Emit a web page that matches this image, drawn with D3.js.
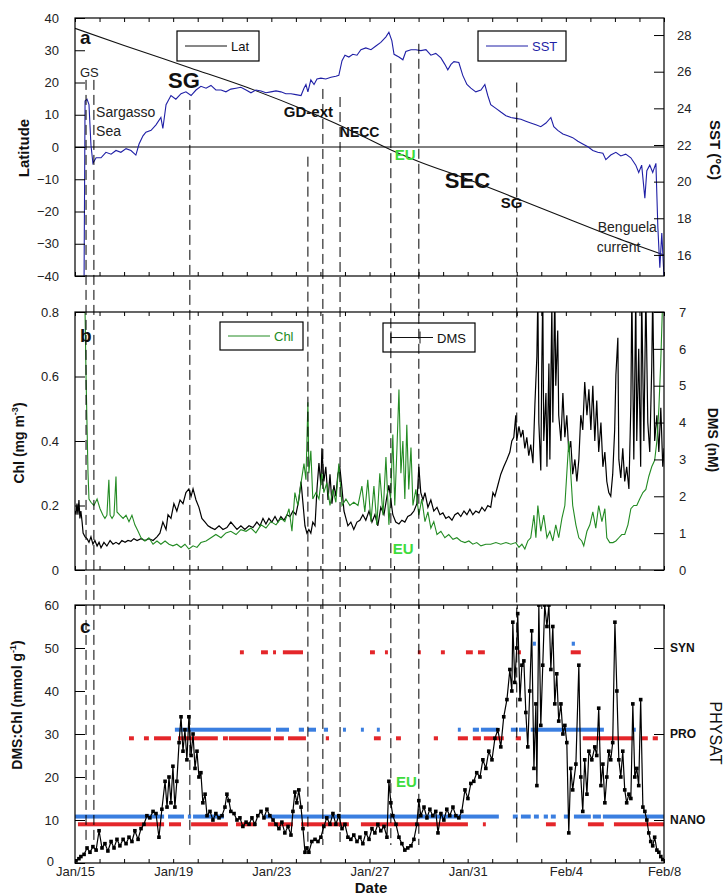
<!DOCTYPE html>
<html>
<head>
<meta charset="utf-8">
<script src="https://cdn.jsdelivr.net/npm/d3@7"></script>
<style>
  body { margin: 0; background: #fff; }
  svg text { font-family: "Liberation Sans", Arial, sans-serif; }
</style>
</head>
<body>
<svg id="chart" width="724" height="896"></svg>
<script>
// ---- data (day 0 = Jan 15, day 24 = Feb 8) ----
const dayTickLabels = ["Jan/15", "Jan/19", "Jan/23", "Jan/27", "Jan/31", "Feb/4", "Feb/8"];

// ship latitude along track [day, deg]
const latTrack = [[0,36.8],[2,31.5],[4.7,24.5],[7,18.5],[9.5,11],[11,6],[12.9,-1],[14,-4.5],
  [16,-10],[18,-16],[20,-22],[22,-28],[24,-33.5]];

// SST [day, degC]
const sst = [[0.37,14.8],[0.41,24.4],[0.49,24.5],[0.57,24.2],[0.65,22.0],[0.73,21.0],[0.86,21.3],[1.06,21.3],
  [1.26,21.6],[1.47,21.5],[1.67,21.7],[1.87,21.6],[2.08,21.8],[2.28,21.7],[2.48,21.45],[2.61,22.05],[2.77,22.5],
  [2.89,22.7],[3.10,22.8],[3.30,23.1],[3.50,23.5],[3.58,22.9],[3.71,24.2],[3.91,24.7],[4.11,24.5],[4.32,24.8],
  [4.52,24.9],[4.73,24.7],[4.93,25.0],[5.13,25.2],[5.34,25.1],[5.54,25.25],[5.74,25.0],[5.95,25.0],[6.15,24.9],
  [6.35,25.05],[6.56,25.1],[6.76,25.15],[6.97,25.0],[7.17,24.85],[7.37,25.0],[7.58,24.95],[7.78,24.85],[7.98,24.9],
  [8.19,24.95],[8.39,24.9],[8.59,24.8],[8.80,24.8],[9.00,24.75],[9.21,24.7],[9.33,25.1],[9.41,25.3],[9.49,24.9],
  [9.61,25.55],[9.74,25.3],[9.86,25.6],[10.02,25.65],[10.22,25.6],[10.43,25.7],[10.63,25.75],[10.75,25.8],
  [10.88,26.6],[11.0,26.9],[11.16,26.8],[11.32,26.95],[11.49,26.9],[11.65,27.2],[11.85,27.3],[12.06,27.2],
  [12.26,27.4],[12.46,27.6],[12.67,27.9],[12.79,28.15],[12.91,27.7],[13.0,26.95],[13.20,26.8],[13.36,26.65],
  [13.48,27.1],[13.69,27.2],[13.89,27.2],[14.09,27.15],[14.30,27.2],[14.50,26.9],[14.70,27.0],[14.91,26.75],
  [15.07,26.4],[15.19,26.1],[15.32,26.4],[15.44,26.55],[15.64,26.5],[15.80,25.8],[15.97,25.3],[16.13,25.1],
  [16.33,24.9],[16.54,25.0],[16.70,25.3],[16.82,24.7],[16.94,24.2],[17.15,24.0],[17.35,23.8],[17.56,23.6],
  [17.76,23.5],[17.96,23.45],[18.17,23.4],[18.37,23.3],[18.57,23.2],[18.78,23.1],[18.98,23.0],[19.19,23.2],
  [19.39,23.5],[19.51,23.0],[19.67,22.8],[19.88,22.6],[20.08,22.5],[20.28,22.4],[20.49,22.2],[20.69,22.05],
  [20.90,21.9],[21.10,21.7],[21.30,21.6],[21.51,21.55],[21.63,21.2],[21.83,21.45],[22.04,21.6],[22.24,21.4],
  [22.44,21.5],[22.65,21.3],[22.85,20.9],[22.97,20.5],[23.09,20.9],[23.22,19.1],[23.30,20.6],[23.42,20.9],
  [23.54,20.5],[23.67,21.0],[23.75,17.5],[23.83,15.3],[23.91,17.2],[24.0,14.8]];

// Chl [day, mg m-3]
const chl = [[0.37,0.85],[0.41,0.8],[0.45,0.6],[0.49,0.45],[0.53,0.3],[0.57,0.22],[0.65,0.21],[0.77,0.2],[0.90,0.22],
  [1.02,0.19],[1.14,0.17],[1.22,0.16],[1.30,0.17],[1.38,0.28],[1.43,0.17],[1.51,0.16],[1.59,0.17],[1.67,0.29],
  [1.71,0.18],[1.83,0.17],[1.96,0.16],[2.08,0.17],[2.20,0.15],[2.32,0.17],[2.44,0.14],[2.57,0.12],[2.69,0.1],
  [2.85,0.09],[3.01,0.1],[3.18,0.08],[3.34,0.09],[3.50,0.08],[3.67,0.09],[3.83,0.08],[3.99,0.075],[4.15,0.08],
  [4.32,0.07],[4.48,0.08],[4.64,0.065],[4.81,0.075],[4.97,0.07],[5.13,0.085],[5.34,0.09],[5.54,0.1],[5.74,0.11],
  [5.95,0.1],[6.15,0.115],[6.35,0.12],[6.56,0.11],[6.76,0.125],[6.97,0.12],[7.17,0.13],[7.37,0.115],[7.58,0.14],
  [7.78,0.13],[7.98,0.15],[8.19,0.14],[8.39,0.16],[8.55,0.15],[8.72,0.19],[8.84,0.12],[8.96,0.24],[9.08,0.2],
  [9.21,0.27],[9.33,0.33],[9.41,0.28],[9.49,0.52],[9.53,0.3],[9.61,0.37],[9.69,0.22],[9.82,0.24],[9.94,0.22],
  [10.06,0.3],[10.14,0.24],[10.26,0.27],[10.39,0.2],[10.51,0.25],[10.63,0.21],[10.75,0.33],[10.88,0.2],[11.04,0.22],
  [11.20,0.2],[11.36,0.21],[11.53,0.2],[11.69,0.26],[11.81,0.18],[11.93,0.28],[12.06,0.15],[12.18,0.26],[12.30,0.14],
  [12.42,0.3],[12.55,0.17],[12.67,0.35],[12.79,0.14],[12.87,0.24],[12.95,0.42],[13.03,0.2],[13.12,0.38],[13.20,0.56],
  [13.28,0.3],[13.36,0.4],[13.44,0.22],[13.52,0.45],[13.60,0.25],[13.69,0.38],[13.77,0.2],[13.89,0.25],[14.01,0.17],
  [14.13,0.22],[14.26,0.15],[14.38,0.18],[14.50,0.13],[14.62,0.15],[14.75,0.11],[14.91,0.12],[15.07,0.1],[15.23,0.11],
  [15.40,0.095],[15.56,0.1],[15.72,0.09],[15.89,0.085],[16.05,0.09],[16.21,0.08],[16.37,0.085],[16.54,0.075],
  [16.74,0.08],[16.94,0.08],[17.15,0.085],[17.35,0.08],[17.56,0.085],[17.76,0.08],[17.96,0.085],[18.09,0.07],
  [18.21,0.08],[18.33,0.065],[18.45,0.09],[18.57,0.1],[18.70,0.17],[18.78,0.1],[18.86,0.2],[18.98,0.12],[19.10,0.17],
  [19.23,0.1],[19.35,0.12],[19.47,0.09],[19.59,0.14],[19.71,0.1],[19.84,0.16],[19.96,0.2],[20.04,0.3],[20.12,0.4],
  [20.20,0.3],[20.28,0.2],[20.41,0.14],[20.53,0.1],[20.65,0.09],[20.73,0.075],[20.86,0.12],[20.98,0.14],[21.10,0.18],
  [21.22,0.13],[21.34,0.2],[21.47,0.15],[21.59,0.19],[21.67,0.1],[21.79,0.085],[21.92,0.085],[22.04,0.09],[22.16,0.1],
  [22.28,0.11],[22.40,0.11],[22.53,0.14],[22.65,0.19],[22.77,0.2],[22.89,0.2],[23.01,0.22],[23.14,0.24],[23.26,0.25],
  [23.38,0.29],[23.50,0.32],[23.62,0.34],[23.71,0.4],[23.79,0.5],[23.87,0.65],[23.95,0.85]];

// DMS [day, nM]
const dms = [[0.0,1.6],[0.04,1.5],[0.08,1.8],[0.12,1.5],[0.16,1.9],[0.20,1.4],[0.24,1.6],[0.29,1.3],[0.33,1.0],
  [0.41,0.9],[0.49,0.85],[0.57,0.75],[0.65,0.9],[0.73,0.7],[0.81,0.8],[0.90,0.65],[0.98,0.75],[1.06,0.6],[1.18,0.75],
  [1.30,0.65],[1.43,0.8],[1.55,0.7],[1.67,0.75],[1.79,0.7],[1.91,0.8],[2.04,0.75],[2.16,0.8],[2.28,0.78],[2.40,0.85],
  [2.53,0.8],[2.69,0.85],[2.85,0.8],[3.01,0.85],[3.18,0.8],[3.34,0.9],[3.46,1.0],[3.58,1.3],[3.71,1.1],[3.79,1.5],
  [3.91,1.4],[4.03,1.8],[4.15,1.6],[4.28,1.9],[4.40,1.8],[4.52,2.1],[4.64,2.2],[4.73,2.0],[4.81,2.2],[4.93,1.9],
  [5.05,1.7],[5.17,1.4],[5.30,1.3],[5.42,1.2],[5.54,1.15],[5.70,1.1],[5.87,1.2],[6.03,1.1],[6.19,1.15],[6.35,1.3],
  [6.48,1.2],[6.60,1.1],[6.76,1.2],[6.92,1.1],[7.09,1.2],[7.25,1.15],[7.41,1.3],[7.54,1.2],[7.66,1.4],[7.78,1.25],
  [7.90,1.4],[8.02,1.3],[8.15,1.45],[8.27,1.3],[8.39,1.45],[8.51,1.35],[8.64,1.5],[8.76,1.45],[8.88,1.6],[9.00,1.5],
  [9.12,1.9],[9.21,2.4],[9.29,1.8],[9.37,1.2],[9.45,1.0],[9.53,1.1],[9.61,1.0],[9.69,1.3],[9.78,1.2],[9.86,2.2],
  [9.94,2.9],[10.02,2.3],[10.06,3.3],[10.14,2.4],[10.22,2.8],[10.31,1.9],[10.39,2.6],[10.47,1.8],[10.55,2.3],
  [10.63,2.0],[10.71,2.6],[10.79,2.8],[10.88,2.2],[10.96,1.6],[11.04,1.4],[11.12,1.2],[11.24,1.3],[11.36,1.1],
  [11.49,1.3],[11.61,1.35],[11.73,1.5],[11.85,1.35],[11.98,1.6],[12.10,1.3],[12.22,1.5],[12.34,1.2],[12.46,1.7],
  [12.59,1.5],[12.71,2.0],[12.79,2.3],[12.87,1.9],[12.95,1.5],[13.07,1.3],[13.20,1.25],[13.32,1.35],[13.44,1.3],
  [13.56,1.45],[13.69,1.5],[13.81,1.6],[13.93,1.8],[14.01,2.8],[14.09,2.1],[14.18,1.9],[14.26,2.1],[14.38,1.7],
  [14.50,1.9],[14.62,1.6],[14.75,1.7],[14.87,1.5],[14.99,1.55],[15.11,1.4],[15.23,1.45],[15.36,1.35],[15.48,1.5],
  [15.60,1.55],[15.72,1.45],[15.85,1.6],[15.97,1.5],[16.09,1.65],[16.21,1.5],[16.33,1.6],[16.46,1.55],[16.58,1.7],
  [16.70,1.6],[16.82,1.75],[16.94,1.7],[17.03,2.1],[17.11,2.0],[17.23,2.3],[17.35,2.6],[17.47,2.8],[17.60,3.0],
  [17.72,3.2],[17.80,3.5],[17.88,3.6],[17.96,4.2],[18.00,3.5],[18.09,3.9],[18.17,3.6],[18.25,3.8],[18.33,3.3],
  [18.41,3.6],[18.49,3.1],[18.57,3.4],[18.66,2.9],[18.74,4.5],[18.82,5.8],[18.86,7.5],[18.90,4.0],[18.98,2.7],
  [19.02,5.5],[19.06,7.5],[19.10,3.5],[19.19,4.8],[19.23,2.8],[19.31,5.6],[19.35,3.0],[19.43,7.2],[19.47,4.0],
  [19.55,7.5],[19.59,5.0],[19.67,6.5],[19.71,4.2],[19.80,3.5],[19.88,4.8],[19.96,3.6],[20.04,4.2],[20.12,3.2],
  [20.20,3.5],[20.28,2.6],[20.37,3.0],[20.45,2.4],[20.53,3.0],[20.61,4.2],[20.69,3.8],[20.77,5.1],[20.86,4.2],
  [20.94,4.9],[21.02,3.8],[21.10,5.0],[21.18,3.5],[21.26,4.6],[21.34,3.2],[21.43,4.0],[21.51,2.8],[21.59,3.2],
  [21.67,2.4],[21.75,2.1],[21.83,2.0],[21.91,2.6],[21.99,3.8],[22.04,5.3],[22.12,6.3],[22.16,3.0],[22.24,2.5],
  [22.32,3.3],[22.40,2.4],[22.48,2.8],[22.57,2.2],[22.65,4.5],[22.69,7.5],[22.77,3.0],[22.85,7.5],[22.89,3.5],
  [22.97,6.0],[23.05,2.8],[23.09,7.5],[23.18,3.5],[23.26,7.5],[23.34,4.0],[23.42,3.2],[23.50,5.5],[23.54,7.5],
  [23.62,3.5],[23.71,4.2],[23.79,3.2],[23.87,4.4],[23.95,2.8],[24.0,3.3]];

// DMS:Chl ratio [day, mmol g-1]
const dmsChl = [[0.04,0.5],[0.16,1.0],[0.24,1.5],[0.37,2.0],[0.49,3.5],[0.61,2.5],[0.73,3.8],[0.86,3.0],[0.98,7.5],
  [1.10,3.5],[1.22,4.5],[1.34,2.8],[1.47,5.0],[1.59,3.5],[1.71,5.5],[1.83,4.0],[1.96,5.5],[2.08,4.5],[2.20,6.0],
  [2.32,5.0],[2.44,7.5],[2.57,5.5],[2.69,8.0],[2.81,9.0],[2.93,11.0],[3.05,10.5],[3.18,12.0],[3.30,11.5],[3.42,6.0],
  [3.54,12.5],[3.67,19.0],[3.75,13.0],[3.83,20.0],[3.91,14.0],[3.99,22.5],[4.07,13.0],[4.15,19.0],[4.24,28.0],
  [4.32,34.0],[4.40,26.0],[4.48,31.0],[4.56,24.0],[4.64,34.0],[4.73,25.0],[4.81,30.0],[4.89,22.0],[4.97,26.0],
  [5.05,20.0],[5.13,21.0],[5.21,14.0],[5.30,16.0],[5.38,11.0],[5.50,12.0],[5.62,10.0],[5.74,11.5],[5.87,10.5],
  [5.99,11.0],[6.11,13.0],[6.19,16.0],[6.27,14.5],[6.35,12.0],[6.48,11.5],[6.60,10.0],[6.72,10.5],[6.84,8.5],
  [6.97,9.5],[7.09,9.0],[7.21,10.5],[7.33,9.0],[7.45,11.0],[7.58,12.0],[7.70,10.5],[7.82,12.5],[7.94,11.0],
  [8.07,10.0],[8.19,9.0],[8.31,8.0],[8.43,9.5],[8.55,7.0],[8.68,8.5],[8.80,6.5],[8.88,12.0],[8.96,16.5],[9.04,14.0],
  [9.12,17.0],[9.21,13.0],[9.29,8.0],[9.37,2.5],[9.45,3.5],[9.53,2.5],[9.65,5.0],[9.78,5.5],[9.90,5.0],[10.02,6.0],
  [10.14,8.5],[10.26,10.5],[10.39,9.0],[10.51,11.5],[10.63,9.0],[10.75,11.0],[10.88,8.0],[11.00,9.0],[11.12,6.0],
  [11.24,5.5],[11.36,6.5],[11.49,5.0],[11.61,6.0],[11.73,4.5],[11.85,7.0],[11.98,5.5],[12.10,8.0],[12.22,7.0],
  [12.34,9.0],[12.46,7.5],[12.59,8.5],[12.71,6.0],[12.79,19.0],[12.87,14.0],[12.95,11.0],[13.08,9.0],[13.20,6.0],
  [13.32,4.5],[13.44,3.0],[13.56,3.5],[13.69,4.0],[13.81,5.5],[13.93,9.0],[14.01,14.5],[14.09,11.0],[14.22,13.0],
  [14.34,10.5],[14.46,12.5],[14.58,11.0],[14.70,12.0],[14.79,7.0],[14.91,11.5],[15.03,10.0],[15.15,12.5],[15.27,11.0],
  [15.40,13.0],[15.52,11.0],[15.64,10.5],[15.76,12.0],[15.89,17.0],[16.01,15.0],[16.13,18.5],[16.25,19.0],[16.37,21.0],
  [16.50,20.0],[16.62,24.0],[16.74,22.0],[16.86,26.0],[16.99,24.0],[17.11,29.0],[17.23,31.0],[17.35,27.0],[17.47,34.0],
  [17.60,38.0],[17.72,45.0],[17.80,40.0],[17.84,56.0],[17.92,42.0],[18.00,50.0],[18.04,58.0],[18.13,38.0],[18.21,46.0],
  [18.29,47.0],[18.37,35.0],[18.45,27.0],[18.53,40.0],[18.61,54.0],[18.70,22.0],[18.78,37.0],[18.82,18.0],[18.90,60.0],
  [18.98,32.0],[19.06,46.0],[19.14,60.0],[19.23,55.0],[19.31,60.0],[19.39,45.0],[19.47,55.0],[19.55,37.0],[19.63,44.0],
  [19.71,33.0],[19.80,37.0],[19.88,30.0],[19.96,32.0],[20.04,28.0],[20.12,7.0],[20.20,22.0],[20.28,17.0],[20.41,23.0],
  [20.53,46.0],[20.61,20.0],[20.69,12.0],[20.77,24.0],[20.86,16.0],[20.94,26.0],[21.06,24.0],[21.18,27.0],[21.26,25.0],
  [21.34,36.0],[21.43,18.0],[21.51,23.0],[21.59,14.0],[21.67,20.0],[21.75,26.0],[21.83,24.0],[21.91,28.0],[22.00,56.0],
  [22.08,40.0],[22.16,24.0],[22.24,20.0],[22.32,26.0],[22.40,17.0],[22.48,14.0],[22.57,16.0],[22.65,15.0],[22.73,37.0],
  [22.81,20.0],[22.89,22.0],[22.97,18.0],[23.05,38.0],[23.14,13.0],[23.22,12.0],[23.30,10.0],[23.38,7.0],[23.46,5.0],
  [23.54,4.0],[23.62,6.0],[23.71,3.0],[23.79,2.5],[23.87,1.5],[23.95,0.8]];

// PHYSAT dominant groups: [start day, end day] segments
const physatLevels = { SYN: 50, PRO: 30, NANO: 10 };
const nanoBlue = [[0,3.63],[3.79,4.44],[4.60,4.73],[4.81,6.07],[7.70,17.27],[17.84,18.04],[18.17,18.57],[18.70,18.90],
  [19.10,19.27],[19.39,19.59],[19.92,20.12],[20.33,21.02],[21.10,21.43],[21.51,24.0]];
const nanoRed = [[0.12,3.63],[3.83,4.32],[4.73,6.23],[6.56,7.37],[7.86,8.88],[9.21,11.16],[11.65,16.01],[16.62,16.74],
  [19.19,19.59],[20.90,21.55],[21.96,24.0]];
const proBlue = [[4.07,7.98],[8.19,8.72],[9.12,9.33],[9.49,9.82],[10.14,10.31],[10.92,11.04],[11.65,11.77],[12.30,12.42],
  [15.60,15.72],[16.21,16.46],[16.54,17.23],[17.76,18.04],[18.09,18.37],[18.57,21.55],[22.73,22.85]];
const proRed = [[2.20,2.40],[2.81,3.01],[3.22,3.91],[4.20,5.82],[6.03,6.23],[6.27,7.98],[8.11,8.51],[8.68,9.41],
  [10.22,10.35],[12.18,12.46],[13.08,13.28],[14.62,14.79],[15.60,16.01],[16.21,16.54],[16.66,17.47],[17.96,18.17],
  [20.69,22.77],[23.05,23.34],[23.54,23.75]];
const synBlue = [[18.66,18.78],[20.24,20.37]];
const synRed = [[6.72,6.88],[7.58,7.86],[8.07,8.19],[8.47,9.29],[12.02,12.22],[12.63,12.75],[13.97,14.09],[14.91,15.07],
  [15.93,16.21],[16.42,16.70],[18.04,18.17],[20.20,20.61]];

// oceanographic provinces: boundary day and latitude where the marker starts
const frontDays = [0.45, 0.77, 4.68, 9.49, 10.1, 10.8, 12.87, 14.01, 18.0];
const frontTopLat = [20.8, 20.8, 14.6, -3, 18, 15.5, 26, 32, 20];

const provinceLabels = [
  { t: "GS", d: 0.2, lat: 21.7, size: 13, w: "normal", c: "#222" },
  { t: "Sargasso", d: 0.86, lat: 9.3, size: 14, w: "normal", c: "#222" },
  { t: "Sea", d: 0.86, lat: 3.4, size: 14, w: "normal", c: "#222" },
  { t: "SG", d: 3.79, lat: 18.3, size: 22, w: "bold", c: "#111" },
  { t: "GD-ext", d: 8.51, lat: 9.3, size: 15, w: "bold", c: "#111" },
  { t: "NECC", d: 10.79, lat: 3.1, size: 14, w: "bold", c: "#111" },
  { t: "EU", d: 13.03, lat: -4.0, size: 15, w: "bold", c: "#3ddc3d" },
  { t: "SEC", d: 15.07, lat: -12.7, size: 22, w: "bold", c: "#111" },
  { t: "SG", d: 17.35, lat: -18.9, size: 15, w: "bold", c: "#111" },
  { t: "Benguela", d: 21.3, lat: -26.4, size: 14, w: "normal", c: "#222" },
  { t: "current", d: 21.26, lat: -32.6, size: 14, w: "normal", c: "#222" }
];

// ---- layout ----
const svg = d3.select("#chart");
const X0 = 75, X1 = 664;
const panelA = [18, 276], panelB = [312, 570], panelC = [605, 863];

const x = d3.scaleLinear().domain([0, 24]).range([X0, X1]);
const yLat = d3.scaleLinear().domain([-40, 40]).range(panelA.slice().reverse());
const ySst = d3.scaleLinear().domain([14.85, 28.93]).range(panelA.slice().reverse());
const yChl = d3.scaleLinear().domain([0, 0.8]).range(panelB.slice().reverse());
const yDms = d3.scaleLinear().domain([0, 7]).range(panelB.slice().reverse());
const yRat = d3.scaleLinear().domain([0, 60]).range(panelC.slice().reverse());

const SST_BLUE = "#1f1fa6", CHL_GREEN = "#238b23", EU_GREEN = "#3ddc3d";
const PHY_BLUE = "#3a7ee0", PHY_RED = "#e4262a";

function styleAxis(g, size) {
  g.select(".domain").remove();
  g.selectAll("line").attr("stroke", "#000");
  g.selectAll("text").attr("font-size", size || 13).attr("fill", "#222")
    .style("font-family", "'Liberation Sans', Arial, sans-serif");
}

function clip(id, top, bottom) {
  svg.append("clipPath").attr("id", id).append("rect")
    .attr("x", X0).attr("y", top).attr("width", X1 - X0).attr("height", bottom - top);
}

function dayTicks(top, bottom, withLabels) {
  const days = d3.range(0, 25);
  svg.append("g").attr("transform", `translate(0,${top})`)
    .call(d3.axisTop(x).tickValues(days).tickSizeInner(-4).tickSizeOuter(0).tickFormat(""))
    .call(styleAxis);
  svg.append("g").attr("transform", `translate(0,${bottom})`)
    .call(d3.axisBottom(x).tickValues(days).tickSizeInner(-4).tickSizeOuter(0).tickPadding(4)
      .tickFormat(d => withLabels && d % 4 === 0 ? dayTickLabels[d / 4] : ""))
    .call(styleAxis);
}

function frame(top, bottom) {
  svg.append("rect").attr("x", X0).attr("y", top).attr("width", X1 - X0).attr("height", bottom - top)
    .attr("fill", "none").attr("stroke", "#000").attr("stroke-width", 1.2);
}

function vLabel(text, cx, cy, rot, size, weight, color) {
  svg.append("text").attr("transform", `translate(${cx},${cy}) rotate(${rot})`)
    .attr("text-anchor", "middle").attr("dominant-baseline", "middle")
    .attr("font-size", size).attr("font-weight", weight || "bold").attr("fill", color || "#111")
    .text(text);
}

function legend(x0, y0, w, h, color, label, bars) {
  const g = svg.append("g");
  g.append("rect").attr("x", x0).attr("y", y0).attr("width", w).attr("height", h)
    .attr("fill", "#fff").attr("stroke", "#000").attr("stroke-width", 1.2);
  const ly = y0 + h / 2;
  g.append("line").attr("x1", x0 + 8).attr("x2", x0 + 50).attr("y1", ly).attr("y2", ly)
    .attr("stroke", color).attr("stroke-width", 1);
  if (bars) {
    [x0 + 8, x0 + 37].forEach(bx => g.append("line").attr("x1", bx).attr("x2", bx)
      .attr("y1", ly - 6).attr("y2", ly + 6).attr("stroke", color));
  }
  g.append("text").attr("x", x0 + 54).attr("y", ly + 5).attr("font-size", 13).attr("fill", color).text(label);
}

function panelLetter(t, px, py) {
  svg.append("text").attr("x", px).attr("y", py).attr("font-size", 19).attr("font-weight", "bold")
    .attr("fill", "#111").text(t);
}

// ---- panel a: latitude + SST ----
clip("clipA", panelA[0], panelA[1]);
const gA = svg.append("g").attr("clip-path", "url(#clipA)");
gA.append("line").attr("x1", X0).attr("x2", X1).attr("y1", yLat(0)).attr("y2", yLat(0))
  .attr("stroke", "#000").attr("stroke-width", 1);
gA.append("path").datum(latTrack)
  .attr("d", d3.line().x(d => x(d[0])).y(d => yLat(d[1])).curve(d3.curveMonotoneX))
  .attr("fill", "none").attr("stroke", "#111").attr("stroke-width", 1.1);
gA.append("path").datum(sst)
  .attr("d", d3.line().x(d => x(d[0])).y(d => ySst(d[1])))
  .attr("fill", "none").attr("stroke", SST_BLUE).attr("stroke-width", 1.1);

svg.append("g").attr("transform", `translate(${X0},0)`)
  .call(d3.axisLeft(yLat).tickValues(d3.range(-40, 41, 10)).tickSizeInner(-10).tickSizeOuter(0).tickPadding(16))
  .call(styleAxis);
svg.append("g").attr("transform", `translate(${X1},0)`)
  .call(d3.axisRight(ySst).tickValues([16, 18, 20, 22, 24, 26, 28]).tickSizeInner(-10).tickSizeOuter(0).tickPadding(13))
  .call(styleAxis);
dayTicks(panelA[0], panelA[1], false);
frame(panelA[0], panelA[1]);
legend(177, 31, 82, 30, "#111", "Lat");
legend(478, 31, 88, 30, SST_BLUE, "SST");
panelLetter("a", 80, 44);
vLabel("Latitude", 25, 148, -90, 15);
vLabel("SST (°C)", 714, 150, 90, 15);

provinceLabels.forEach(p => {
  svg.append("text").attr("x", x(p.d)).attr("y", yLat(p.lat))
    .attr("font-size", p.size).attr("font-weight", p.w).attr("fill", p.c).text(p.t);
});

// ---- panel b: Chl + DMS ----
clip("clipB", panelB[0], panelB[1]);
const gB = svg.append("g").attr("clip-path", "url(#clipB)");
gB.append("path").datum(dms)
  .attr("d", d3.line().x(d => x(d[0])).y(d => yDms(d[1])))
  .attr("fill", "none").attr("stroke", "#000").attr("stroke-width", 1.2);
gB.append("path").datum(chl)
  .attr("d", d3.line().x(d => x(d[0])).y(d => yChl(d[1])))
  .attr("fill", "none").attr("stroke", CHL_GREEN).attr("stroke-width", 1.1);

svg.append("g").attr("transform", `translate(${X0},0)`)
  .call(d3.axisLeft(yChl).tickValues([0, 0.2, 0.4, 0.6, 0.8]).tickSizeInner(-10).tickSizeOuter(0).tickPadding(16)
    .tickFormat(d => d === 0 ? "0" : d3.format(".1f")(d)))
  .call(styleAxis);
svg.append("g").attr("transform", `translate(${X1},0)`)
  .call(d3.axisRight(yDms).tickValues(d3.range(0, 8)).tickSizeInner(-10).tickSizeOuter(0).tickPadding(15)
    .tickFormat(d3.format("d")))
  .call(styleAxis);
dayTicks(panelB[0], panelB[1], false);
frame(panelB[0], panelB[1]);
legend(220, 322, 83, 28, CHL_GREEN, "Chl");
legend(383, 323, 92, 29, "#111", "DMS", true);
panelLetter("b", 80, 342);
svg.append("text").attr("x", x(12.95)).attr("y", yChl(0.05)).attr("font-size", 15).attr("font-weight", "bold")
  .attr("fill", EU_GREEN).text("EU");
const chlLab = svg.append("text").attr("transform", `translate(24,443) rotate(-90)`)
  .attr("text-anchor", "middle").attr("font-size", 14).attr("font-weight", "bold").attr("fill", "#111");
chlLab.append("tspan").text("Chl (mg m");
chlLab.append("tspan").attr("dy", -6).attr("font-size", 9).text("-3");
chlLab.append("tspan").attr("dy", 6).text(")");
vLabel("DMS (nM)", 712, 440, 90, 14);

// ---- panel c: DMS:Chl + PHYSAT ----
clip("clipC", panelC[0], panelC[1]);
const gC = svg.append("g").attr("clip-path", "url(#clipC)");

function segs(list, level, color) {
  gC.append("g").selectAll("rect").data(list).join("rect")
    .attr("x", d => x(d[0])).attr("width", d => Math.max(2, x(d[1]) - x(d[0])))
    .attr("y", yRat(level) - 2).attr("height", 4).attr("fill", color);
}
segs(nanoBlue, physatLevels.NANO + 0.8, PHY_BLUE);
segs(nanoRed, physatLevels.NANO - 1, PHY_RED);
segs(proBlue, physatLevels.PRO + 1, PHY_BLUE);
segs(proRed, physatLevels.PRO - 1, PHY_RED);
segs(synBlue, physatLevels.SYN + 1, PHY_BLUE);
segs(synRed, physatLevels.SYN - 1, PHY_RED);

gC.append("path").datum(dmsChl)
  .attr("d", d3.line().x(d => x(d[0])).y(d => yRat(d[1])))
  .attr("fill", "none").attr("stroke", "#000").attr("stroke-width", 1.2);
gC.append("g").selectAll("rect").data(dmsChl).join("rect")
  .attr("x", d => x(d[0]) - 1.8).attr("y", d => yRat(d[1]) - 1.8)
  .attr("width", 3.6).attr("height", 3.6).attr("fill", "#000");

svg.append("g").attr("transform", `translate(${X0},0)`)
  .call(d3.axisLeft(yRat).tickValues(d3.range(0, 61, 10)).tickSizeInner(-10).tickSizeOuter(0).tickPadding(16))
  .call(styleAxis)
  .call(g => g.selectAll(".tick").filter(d => d === 0).select("text").attr("x", -21).attr("dy", "0.2em"));
const physatNames = Object.keys(physatLevels);
svg.append("g").attr("transform", `translate(${X1},0)`)
  .call(d3.axisRight(yRat).tickValues(physatNames.map(k => physatLevels[k])).tickSizeInner(-10).tickSizeOuter(0)
    .tickPadding(6).tickFormat(v => physatNames.find(k => physatLevels[k] === v)))
  .call(g => styleAxis(g, 12))
  .call(g => g.selectAll("text").attr("font-weight", "bold").attr("fill", "#111"));
dayTicks(panelC[0], panelC[1], true);
frame(panelC[0], panelC[1]);
panelLetter("c", 80, 633);
svg.append("text").attr("x", x(13.08)).attr("y", yRat(17.7)).attr("font-size", 15).attr("font-weight", "bold")
  .attr("fill", EU_GREEN).text("EU");
const ratLab = svg.append("text").attr("transform", `translate(22,705) rotate(-90)`)
  .attr("text-anchor", "middle").attr("font-size", 14).attr("font-weight", "bold").attr("fill", "#111");
ratLab.append("tspan").text("DMS:Chl (mmol g");
ratLab.append("tspan").attr("dy", -6).attr("font-size", 9).text("-1");
ratLab.append("tspan").attr("dy", 6).text(")");
vLabel("PHYSAT", 714, 733, 90, 16, "normal");
svg.append("text").attr("x", 371).attr("y", 893).attr("text-anchor", "middle")
  .attr("font-size", 15).attr("font-weight", "bold").attr("fill", "#111").text("Date");

// ---- province boundaries, dashed through all panels ----
svg.append("g").selectAll("line").data(frontDays).join("line")
  .attr("x1", d => x(d)).attr("x2", d => x(d))
  .attr("y1", (d, i) => yLat(frontTopLat[i])).attr("y2", 845)
  .attr("stroke", "#000").attr("stroke-width", 1).attr("stroke-dasharray", "10,5");
</script>
</body>
</html>
